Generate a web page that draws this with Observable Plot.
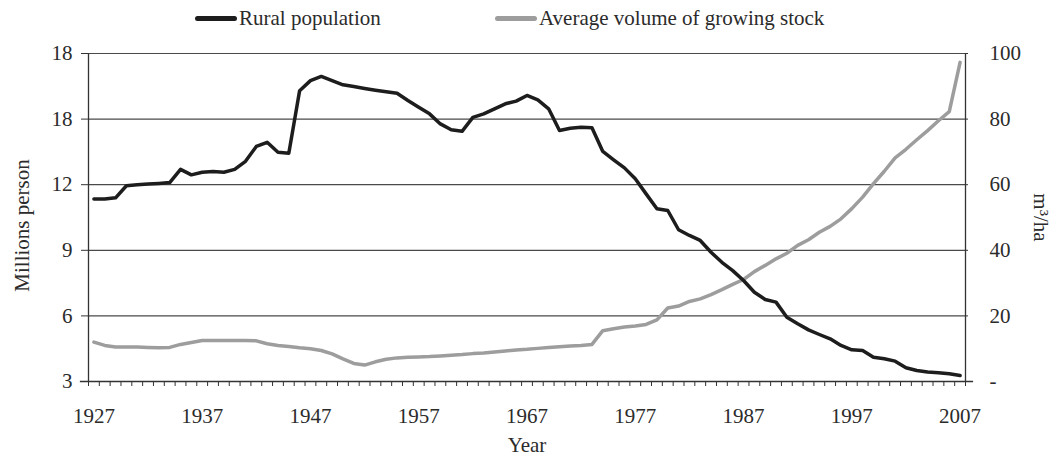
<!DOCTYPE html>
<html>
<head>
<meta charset="utf-8">
<script src="https://cdn.jsdelivr.net/npm/d3@7"></script>
<script src="https://cdn.jsdelivr.net/npm/@observablehq/plot@0.6"></script>
<style>
  html, body { margin: 0; padding: 0; background: #fff; }
  body { width: 1054px; height: 455px; overflow: hidden; font-family: "Liberation Serif", "DejaVu Serif", serif; color: #2b2b2b; }
  #legend { position: relative; height: 36px; font-size: 21px; }
  .item { position: absolute; top: 6px; display: flex; align-items: center; height: 24px; white-space: nowrap; }
  .sw { display: inline-block; width: 42px; height: 5px; border-radius: 3px; margin-right: 2px; }
</style>
</head>
<body>
<div id="legend"></div>
<div id="chart"></div>
<script>
// ---- data ----
const years = d3.range(1927, 2008);
const ruralPopulation = [
  11.35, 11.35, 11.4, 11.95, 12.0, 12.03, 12.06, 12.1, 12.7, 12.45,
  12.57, 12.6, 12.57, 12.7, 13.07, 13.75, 13.94, 13.48, 13.44, 16.3,
  16.76, 16.95, 16.76, 16.57, 16.49, 16.4, 16.32, 16.25, 16.18, 15.85,
  15.54, 15.24, 14.78, 14.51, 14.44, 15.08, 15.24, 15.47, 15.7, 15.82,
  16.08, 15.88, 15.47, 14.48, 14.58, 14.63, 14.6, 13.52, 13.14, 12.77,
  12.27, 11.58, 10.9, 10.82, 9.94, 9.68, 9.45, 8.91, 8.45, 8.07,
  7.62, 7.08, 6.75, 6.63, 5.94, 5.64, 5.36, 5.15, 4.95, 4.65,
  4.45, 4.42, 4.11, 4.04, 3.93, 3.63, 3.5, 3.43, 3.4, 3.35,
  3.27
];
const growingStock = [
  12.0, 11.0, 10.5, 10.5, 10.5, 10.4, 10.3, 10.4, 11.3, 11.9,
  12.5, 12.5, 12.5, 12.5, 12.5, 12.4, 11.5, 11.0, 10.7, 10.3,
  10.0, 9.45, 8.4, 6.9, 5.5, 5.0, 6.0, 6.8, 7.2, 7.4,
  7.5, 7.6, 7.8, 8.0, 8.2, 8.5, 8.7, 9.0, 9.3, 9.6,
  9.8, 10.1, 10.4, 10.6, 10.8, 11.0, 11.3, 15.5, 16.1, 16.6,
  16.9, 17.4, 18.8, 22.4, 23.0, 24.4, 25.2, 26.5, 28.0, 29.6,
  31.1, 33.5, 35.4, 37.4, 39.1, 41.5, 43.2, 45.5, 47.3, 49.6,
  52.7, 56.2, 60.3, 64.1, 68.2, 70.8, 73.7, 76.5, 79.5, 82.3,
  97.3
];
const seriesNames = ["Rural population", "Average volume of growing stock"];
const seriesColors = ["#1d1d1d", "#9d9d9d"];
const leftTicks = [3, 6, 9, 12, 15, 18];
const leftTickLabels = ["3", "6", "9", "12", "18", "18"];
const rightTicks = [0, 20, 40, 60, 80, 100];
const rightTickLabels = ["-", "20", "40", "60", "80", "100"];
const xTickYears = [1927, 1937, 1947, 1957, 1967, 1977, 1987, 1997, 2007];
const yLabel = "Millions person";
const y2Label = "m³/ha";
const xLabel = "Year";

// ---- helpers ----
const leftMin = 3, leftMax = 18, rightMin = 0, rightMax = 100;
const toLeft = v => leftMin + (v - rightMin) * (leftMax - leftMin) / (rightMax - rightMin);
const rural = years.map((y, i) => ({year: y, v: ruralPopulation[i]}));
const stock = years.map((y, i) => ({year: y, v: toLeft(growingStock[i])}));
const minorTicks = d3.range(years[0] - 0.5, years[years.length - 1] + 1, 1);
const x0 = years[0] - 0.5, x1 = years[years.length - 1] + 0.5;

// ---- legend ----
const legend = document.getElementById("legend");
const legendPos = [195, 495];
seriesNames.forEach((n, i) => {
  const d = document.createElement("div");
  d.className = "item";
  d.style.left = legendPos[i] + "px";
  d.innerHTML = `<span class="sw" style="background:${seriesColors[i]}"></span><span>${n}</span>`;
  legend.appendChild(d);
});

// ---- chart ----
const font = "Liberation Serif";
const chart = Plot.plot({
  width: 1054,
  height: 419,
  marginTop: 17,
  marginLeft: 88,
  marginRight: 89,
  marginBottom: 74,
  style: {fontFamily: font, fontSize: "21px", color: "#2b2b2b", background: "#fff", overflow: "visible"},
  x: {domain: [x0, x1], axis: null},
  y: {domain: [leftMin, leftMax], axis: null},
  marks: [
    Plot.ruleY(leftTicks, {stroke: "#4a4a4a", strokeWidth: 1.2}),
    Plot.ruleX([x0, x1], {stroke: "#333", strokeWidth: 1.3}),
    Plot.ruleY([leftMin], {x1: x0 - 0.75, x2: x1 + 0.75, stroke: "#333", strokeWidth: 1.6}),
    Plot.axisY(leftTicks, {anchor: "left", tickSize: 7, tickPadding: 9, stroke: "#333", label: null,
      tickFormat: (d, i) => leftTickLabels[i], fontSize: 21}),
    Plot.axisY(leftTicks, {anchor: "right", tickSize: 2, tickPadding: 22, stroke: "#333", label: null,
      tickFormat: (d, i) => rightTickLabels[i], textAnchor: "start", fontSize: 21}),
    Plot.axisX(minorTicks, {anchor: "bottom", tickSize: 5, tickFormat: () => "", stroke: "#333", label: null}),
    Plot.axisX(xTickYears, {anchor: "bottom", tickSize: 0, tickPadding: 27, tickFormat: d => String(d), label: null, fontSize: 21}),
    Plot.line(stock, {x: "year", y: "v", stroke: seriesColors[1], strokeWidth: 3.5, curve: "linear"}),
    Plot.line(rural, {x: "year", y: "v", stroke: seriesColors[0], strokeWidth: 3.5, curve: "linear"}),
    Plot.text([yLabel], {frameAnchor: "left", textAnchor: "middle", dx: -66, dy: 8, rotate: -90, fontSize: 21, fill: "#2b2b2b"}),
    Plot.text([y2Label], {frameAnchor: "right", textAnchor: "middle", dx: 75, dy: 0, rotate: 90, fontSize: 21, fill: "#2b2b2b"}),
    Plot.text([xLabel], {frameAnchor: "bottom", dy: 70, fontSize: 21, fill: "#2b2b2b"})
  ]
});
document.getElementById("chart").appendChild(chart);
</script>
</body>
</html>
